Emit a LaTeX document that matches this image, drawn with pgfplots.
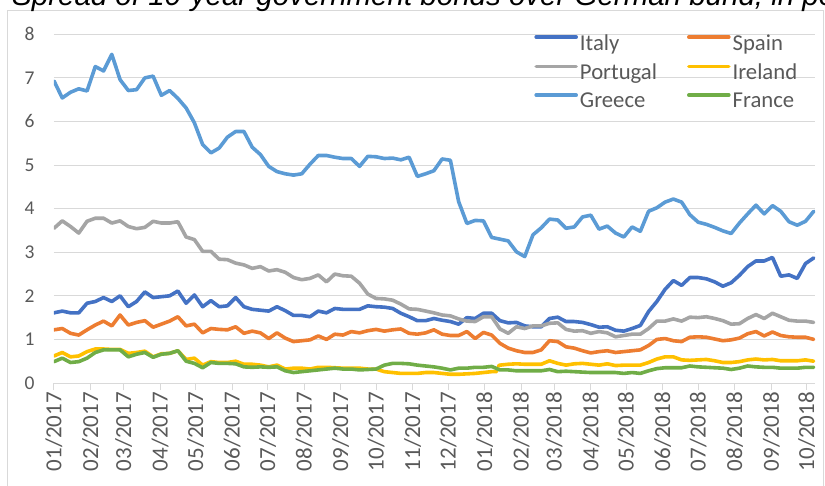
\documentclass[border=0pt]{standalone}
\usepackage{fontspec}
\setmainfont{Carlito}
\newfontfamily\titlefont{Liberation Sans}
\usepackage{pgfplots}
\pgfplotsset{compat=1.18}
\usetikzlibrary{calc}
\definecolor{cItaly}{HTML}{4472C4}
\definecolor{cSpain}{HTML}{ED7D31}
\definecolor{cPortugal}{HTML}{A5A5A5}
\definecolor{cIreland}{HTML}{FFC000}
\definecolor{cGreece}{HTML}{5B9BD5}
\definecolor{cFrance}{HTML}{70AD47}
\definecolor{txtgray}{HTML}{595959}
\definecolor{gridgray}{HTML}{D9D9D9}
\begin{document}
\begin{tikzpicture}
\begin{axis}[scale only axis,
  width=761pt, height=348.7pt,
  xmin=0, xmax=92.15, ymin=0, ymax=8,
  axis x line*=bottom, axis y line*=left,
  x axis line style={draw=gridgray, line width=1pt, -},
  y axis line style={draw=none},
  ytick={0,1,...,8},
  ytick style={draw=none},
  xtick style={draw=gridgray, line width=1pt},
  xtick align=outside, major tick length=7pt,
  ymajorgrids, grid style={draw=gridgray, line width=1pt},
  xtick={0,4.4286,8.4286,12.857,17.143,21.571,25.857,30.286,34.714,39,43.429,47.714,52.143,56.571,60.571,65,69.286,73.714,78,82.429,86.857,91.143},
  xticklabels={01/2017,02/2017,03/2017,04/2017,05/2017,06/2017,07/2017,08/2017,09/2017,10/2017,11/2017,12/2017,01/2018,02/2018,03/2018,04/2018,05/2018,06/2018,07/2018,08/2018,09/2018,10/2018},
  /pgf/number format/assume math mode=true,
  xticklabel style={rotate=90, anchor=east, font=\fontsize{23}{24}\selectfont, text=txtgray, inner sep=2pt},
  yticklabel style={font=\fontsize{19.5}{21}\selectfont, text=txtgray, xshift=-16pt},
  unbounded coords=jump,
  every axis plot/.append style={line width=3.6pt, line join=round, line cap=round, mark=none},
  legend columns=2,
  legend cell align=left,
  legend image code/.code={\draw[#1] (0pt,6pt) -- (40pt,6pt);},
  legend style={at={(0.631,1.003)}, anchor=north west, draw=none, fill=none,
    font=\fontsize{22.7}{24}\selectfont, text=txtgray, inner sep=0pt,
    row sep=10pt,
    nodes={inner xsep=2pt, inner ysep=1pt},
    /tikz/every even column/.append style={column sep=28pt}},
]
\addplot[cItaly] coordinates {(0,1.61)(1,1.65)(2,1.61)(3,1.61)(4,1.83)(5,1.87)(6,1.96)(7,1.87)(8,2.00)(9,1.75)(10,1.87)(11,2.09)(12,1.96)(13,1.98)(14,2.00)(15,2.11)(16,1.83)(17,2.02)(18,1.75)(19,1.89)(20,1.75)(21,1.77)(22,1.96)(23,1.75)(24,1.69)(25,1.67)(26,1.65)(27,1.75)(28,1.66)(29,1.55)(30,1.55)(31,1.52)(32,1.65)(33,1.61)(34,1.71)(35,1.69)(36,1.69)(37,1.69)(38,1.77)(39,1.75)(40,1.74)(41,1.71)(42,1.60)(43,1.52)(44,1.43)(45,1.43)(46,1.48)(47,1.44)(48,1.41)(49,1.35)(50,1.50)(51,1.48)(52,1.60)(53,1.60)(54,1.43)(55,1.38)(56,1.39)(57,1.31)(58,1.29)(59,1.29)(60,1.48)(61,1.51)(62,1.41)(63,1.41)(64,1.39)(65,1.34)(66,1.28)(67,1.29)(68,1.21)(69,1.19)(70,1.25)(71,1.32)(72,1.64)(73,1.87)(74,2.15)(75,2.35)(76,2.24)(77,2.42)(78,2.42)(79,2.39)(80,2.32)(81,2.22)(82,2.30)(83,2.47)(84,2.67)(85,2.80)(86,2.80)(87,2.88)(88,2.45)(89,2.48)(90,2.40)(91,2.74)(92,2.87)};
\addlegendentry{Italy}
\addplot[cSpain] coordinates {(0,1.22)(1,1.25)(2,1.14)(3,1.10)(4,1.22)(5,1.33)(6,1.42)(7,1.31)(8,1.56)(9,1.33)(10,1.39)(11,1.43)(12,1.28)(13,1.35)(14,1.42)(15,1.52)(16,1.31)(17,1.35)(18,1.15)(19,1.25)(20,1.23)(21,1.22)(22,1.29)(23,1.14)(24,1.19)(25,1.15)(26,1.02)(27,1.15)(28,1.03)(29,0.95)(30,0.97)(31,0.99)(32,1.08)(33,1.00)(34,1.12)(35,1.10)(36,1.18)(37,1.15)(38,1.20)(39,1.23)(40,1.19)(41,1.22)(42,1.24)(43,1.14)(44,1.12)(45,1.15)(46,1.22)(47,1.12)(48,1.09)(49,1.09)(50,1.18)(51,1.02)(52,1.16)(53,1.10)(54,0.91)(55,0.80)(56,0.74)(57,0.70)(58,0.70)(59,0.76)(60,0.97)(61,0.95)(62,0.83)(63,0.80)(64,0.74)(65,0.69)(66,0.72)(67,0.74)(68,0.70)(69,0.72)(70,0.74)(71,0.76)(72,0.86)(73,1.00)(74,1.02)(75,0.97)(76,0.95)(77,1.05)(78,1.06)(79,1.05)(80,1.01)(81,0.97)(82,0.99)(83,1.03)(84,1.13)(85,1.18)(86,1.08)(87,1.17)(88,1.09)(89,1.06)(90,1.05)(91,1.05)(92,1.00)};
\addlegendentry{Spain}
\addplot[cPortugal] coordinates {(0,3.55)(1,3.72)(2,3.59)(3,3.44)(4,3.71)(5,3.78)(6,3.78)(7,3.67)(8,3.72)(9,3.59)(10,3.54)(11,3.57)(12,3.71)(13,3.67)(14,3.67)(15,3.70)(16,3.35)(17,3.29)(18,3.02)(19,3.02)(20,2.84)(21,2.83)(22,2.75)(23,2.71)(24,2.63)(25,2.67)(26,2.57)(27,2.60)(28,2.54)(29,2.42)(30,2.37)(31,2.40)(32,2.48)(33,2.32)(34,2.50)(35,2.46)(36,2.45)(37,2.29)(38,2.04)(39,1.94)(40,1.93)(41,1.90)(42,1.81)(43,1.70)(44,1.69)(45,1.65)(46,1.61)(47,1.56)(48,1.54)(49,1.47)(50,1.42)(51,1.41)(52,1.52)(53,1.52)(54,1.24)(55,1.14)(56,1.29)(57,1.25)(58,1.31)(59,1.31)(60,1.37)(61,1.38)(62,1.23)(63,1.19)(64,1.20)(65,1.14)(66,1.18)(67,1.15)(68,1.06)(69,1.09)(70,1.12)(71,1.12)(72,1.25)(73,1.42)(74,1.42)(75,1.47)(76,1.42)(77,1.51)(78,1.50)(79,1.52)(80,1.48)(81,1.43)(82,1.35)(83,1.36)(84,1.48)(85,1.57)(86,1.48)(87,1.60)(88,1.52)(89,1.44)(90,1.42)(91,1.42)(92,1.39)};
\addlegendentry{Portugal}
\addplot[cIreland] coordinates {(0,0.62)(1,0.70)(2,0.60)(3,0.62)(4,0.72)(5,0.78)(6,0.78)(7,0.77)(8,0.77)(9,0.68)(10,0.70)(11,0.73)(12,0.60)(13,0.67)(14,0.68)(15,0.74)(16,0.54)(17,0.57)(18,0.41)(19,0.49)(20,0.47)(21,0.47)(22,0.50)(23,0.43)(24,0.43)(25,0.41)(26,0.37)(27,0.41)(28,0.32)(29,0.34)(30,0.34)(31,0.32)(32,0.36)(33,0.36)(34,0.35)(35,0.34)(36,0.34)(37,0.34)(38,0.32)(39,0.32)(40,0.26)(41,0.24)(42,0.22)(43,0.22)(44,0.22)(45,0.24)(46,0.24)(47,0.22)(48,0.20)(49,0.20)(50,0.21)(51,0.22)(52,0.24)(53,0.26)(53.6,0.26)(53.7,nan)(53.8,0.39)(54,0.41)(55,0.43)(56,0.44)(57,0.43)(58,0.43)(59,0.43)(60,0.51)(61,0.45)(62,0.41)(63,0.44)(64,0.45)(65,0.43)(66,0.41)(67,0.44)(68,0.40)(69,0.41)(70,0.41)(71,0.41)(72,0.47)(73,0.55)(74,0.60)(75,0.60)(76,0.53)(77,0.52)(78,0.53)(79,0.54)(80,0.51)(81,0.47)(82,0.47)(83,0.49)(84,0.53)(85,0.55)(86,0.53)(87,0.54)(88,0.51)(89,0.51)(90,0.51)(91,0.53)(92,0.50)};
\addlegendentry{Ireland}
\addplot[cGreece] coordinates {(0,6.93)(1,6.54)(2,6.67)(3,6.75)(4,6.70)(5,7.26)(6,7.16)(7,7.54)(8,6.96)(9,6.71)(10,6.73)(11,7.00)(12,7.04)(13,6.60)(14,6.71)(15,6.53)(16,6.31)(17,5.97)(18,5.47)(19,5.28)(20,5.39)(21,5.64)(22,5.77)(23,5.77)(24,5.41)(25,5.24)(26,4.97)(27,4.85)(28,4.80)(29,4.77)(30,4.80)(31,5.02)(32,5.22)(33,5.22)(34,5.18)(35,5.15)(36,5.15)(37,4.97)(38,5.20)(39,5.19)(40,5.15)(41,5.16)(42,5.12)(43,5.18)(44,4.74)(45,4.80)(46,4.87)(47,5.14)(48,5.11)(49,4.16)(50,3.66)(51,3.73)(52,3.72)(53,3.34)(54,3.30)(55,3.26)(56,3.01)(57,2.90)(58,3.40)(59,3.56)(60,3.76)(61,3.74)(62,3.55)(63,3.58)(64,3.81)(65,3.85)(66,3.53)(67,3.60)(68,3.44)(69,3.35)(70,3.58)(71,3.48)(72,3.94)(73,4.02)(74,4.15)(75,4.22)(76,4.15)(77,3.86)(78,3.69)(79,3.64)(80,3.57)(81,3.49)(82,3.43)(83,3.67)(84,3.88)(85,4.08)(86,3.88)(87,4.07)(88,3.94)(89,3.70)(90,3.62)(91,3.71)(92,3.94)};
\addlegendentry{Greece}
\addplot[cFrance] coordinates {(0,0.49)(1,0.57)(2,0.47)(3,0.49)(4,0.57)(5,0.70)(6,0.76)(7,0.76)(8,0.76)(9,0.60)(10,0.66)(11,0.70)(12,0.59)(13,0.66)(14,0.68)(15,0.74)(16,0.50)(17,0.45)(18,0.35)(19,0.47)(20,0.45)(21,0.45)(22,0.44)(23,0.37)(24,0.36)(25,0.37)(26,0.36)(27,0.37)(28,0.28)(29,0.24)(30,0.26)(31,0.28)(32,0.30)(33,0.32)(34,0.34)(35,0.32)(36,0.32)(37,0.30)(38,0.31)(39,0.32)(40,0.41)(41,0.45)(42,0.45)(43,0.44)(44,0.41)(45,0.39)(46,0.37)(47,0.34)(48,0.30)(49,0.34)(50,0.34)(51,0.36)(52,0.36)(53,0.38)(54,0.30)(55,0.30)(56,0.28)(57,0.28)(58,0.28)(59,0.28)(60,0.31)(61,0.26)(62,0.27)(63,0.26)(64,0.25)(65,0.24)(66,0.24)(67,0.24)(68,0.24)(69,0.22)(70,0.24)(71,0.22)(72,0.28)(73,0.33)(74,0.35)(75,0.35)(76,0.35)(77,0.39)(78,0.37)(79,0.36)(80,0.35)(81,0.34)(82,0.31)(83,0.34)(84,0.39)(85,0.37)(86,0.36)(87,0.36)(88,0.34)(89,0.34)(90,0.34)(91,0.36)(92,0.36)};
\addlegendentry{France}
\coordinate (O) at (rel axis cs:0,0);
\end{axis}
\path ($(O)+(-54pt,-102pt)$) rectangle ($(O)+(771pt,383pt)$);
\draw[overlay, gridgray, line width=1pt] ($(O)+(-46pt,-112pt)$) rectangle ($(O)+(769pt,372pt)$);
\node[overlay, anchor=base west, inner sep=0pt, font=\titlefont\itshape\fontsize{29.5}{32}\selectfont] at ($(O)+(-42pt,377pt)$) {Spread of 10-year government bonds over German bund, in percentage points};
\end{tikzpicture}
\end{document}
